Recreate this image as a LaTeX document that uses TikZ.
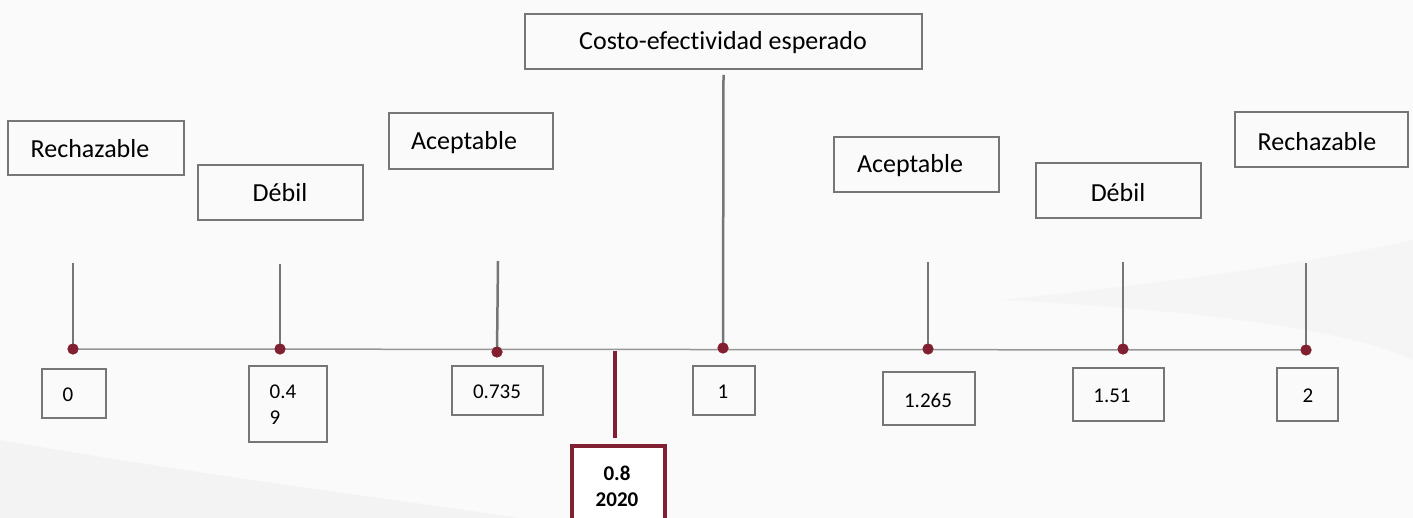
\documentclass[tikz,border=0pt]{standalone}
\usepackage{fontspec}
\setmainfont[Ligatures=NoCommon]{Carlito}
\definecolor{boxgray}{RGB}{118,118,118}
\definecolor{linegray}{RGB}{150,150,150}
\definecolor{darkred}{RGB}{128,32,48}
\definecolor{bgA}{RGB}{250,250,250}
\definecolor{bgB}{RGB}{238,238,238}
\tikzset{
  lbox/.style={draw=boxgray, line width=2pt, inner sep=0pt},
  lbl/.style={inner sep=0pt, font=\fontsize{26}{31}\selectfont},
  num/.style={inner sep=0pt, font=\fontsize{21}{26}\selectfont},
  stem/.style={draw=boxgray, line width=2.5pt},
  axis/.style={draw=linegray, line width=1.5pt},
  dotn/.style={circle, fill=darkred, inner sep=0pt, minimum size=11pt},
  redbox/.style={draw=darkred, line width=4pt, fill=white, inner sep=0pt},
}
\begin{document}
\begin{tikzpicture}[x=1pt,y=-1pt]
\useasboundingbox (0,0) rectangle (1413,518);
\clip (0,0) rectangle (1413,518);
% background
\fill[bgA] (0,0) rectangle (1413,518);
\fill[bgB, opacity=0.5] (0,440) .. controls (200,475) and (400,500) .. (520,518) -- (0,518) -- cycle;
\fill[bgB, opacity=0.35] (1000,300) .. controls (1200,310) and (1350,330) .. (1413,360) -- (1413,240) .. controls (1300,265) and (1150,285) .. (1000,300) -- cycle;

% top label boxes
\node[lbox, minimum width=176pt, minimum height=54pt] (bR1) at (96,148) {};
\node[lbl] (tR1) at (90,149) {Rechazable};
\node[lbox, minimum width=165pt, minimum height=55pt] (bD1) at (280.5,192.5) {};
\node[lbl] (tD1) at (280,193) {Débil};
\node[lbox, minimum width=164pt, minimum height=56pt] (bA1) at (471,141) {};
\node[lbl] (tA1) at (464,143) {Aceptable};
\node[lbox, minimum width=397pt, minimum height=55pt] (bC) at (723.5,41.5) {};
\node[lbl] (tC) at (723,43) {Costo-efectividad esperado};
\node[lbox, minimum width=165pt, minimum height=55pt] (bA2) at (916.5,164.5) {};
\node[lbl] (tA2) at (910,166) {Aceptable};
\node[lbox, minimum width=165pt, minimum height=55pt] (bD2) at (1118.5,190.5) {};
\node[lbl] (tD2) at (1118,193) {Débil};
\node[lbox, minimum width=173pt, minimum height=55pt] (bR2) at (1321.5,139.5) {};
\node[lbl] (tR2) at (1317,142) {Rechazable};

% stems tops
\coordinate (s0) at (73,263);
\coordinate (s1) at (280,264);
\coordinate (s2) at (498,261);
\coordinate (s4) at (928,262);
\coordinate (s5) at (1123,262);
\coordinate (s6) at (1306,263);
\coordinate (s3) at (723.5,75);

% dots
\node[dotn] (d0) at (73,349) {};
\node[dotn] (d1) at (280,349) {};
\node[dotn] (d2) at (497,352) {};
\node[dotn] (d3) at (723,348) {};
\node[dotn] (d4) at (928,349) {};
\node[dotn] (d5) at (1123,349) {};
\node[dotn] (d6) at (1306,350) {};

% axis
\draw[axis] (d0.center) -- (d6.center);
% stems
\draw[stem] (s0) -- (d0.center);
\draw[stem] (s1) -- (d1.center);
\draw[stem] (s2) -- (d2.center);
\draw[stem] (s3) -- (d3.center);
\draw[stem] (s4) -- (d4.center);
\draw[stem] (s5) -- (d5.center);
\draw[stem] (s6) -- (d6.center);
% redraw dots on top
\foreach \d in {d0,d1,d2,d3,d4,d5,d6} \fill[darkred] (\d) circle (5.5pt);

% number boxes
\node[lbox, minimum width=64pt, minimum height=49pt] (n0) at (74,393.5) {};
\node[num] (m0) at (68,395) {0};
\node[lbox, minimum width=78pt, minimum height=76pt] (n1) at (288,404) {};
\node[num, align=left] (m1) at (283,405) {0.4\\9};
\node[lbox, minimum width=91pt, minimum height=49pt] (n2) at (497.5,390.5) {};
\node[num] (m2) at (497,392) {0.735};
\node[lbox, minimum width=62pt, minimum height=49pt] (n3) at (724,390.5) {};
\node[num] (m3) at (723,392) {1};
\node[lbox, minimum width=92pt, minimum height=53pt] (n4) at (929,398.5) {};
\node[num] (m4) at (928,400) {1.265};
\node[lbox, minimum width=91pt, minimum height=53pt] (n5) at (1118.5,394.5) {};
\node[num] (m5) at (1112,396) {1.51};
\node[lbox, minimum width=61pt, minimum height=53pt] (n6) at (1307.5,394.5) {};
\node[num] (m6) at (1308,396) {2};

% 2020 marker
\coordinate (r0) at (615,351);
\node[redbox, minimum width=93pt, minimum height=90pt, anchor=north] (rb) at (618.5,444) {};
\node[num, font=\fontsize{21}{26}\selectfont\bfseries, align=center] (rt) at (617,486) {0.8\\2020};
\draw[draw=darkred, line width=4.5pt, shorten >=6pt] (r0) -- (rb.north -| r0);
\end{tikzpicture}
\end{document}
